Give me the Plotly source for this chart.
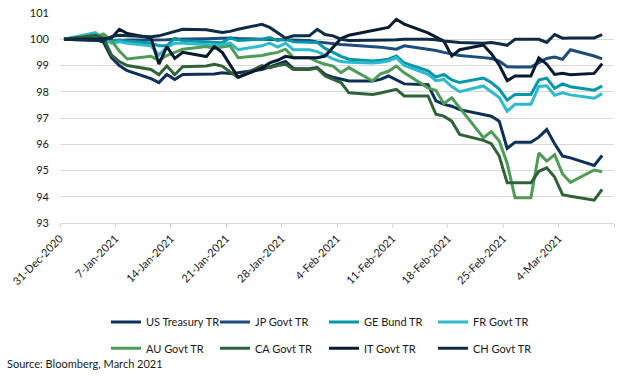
import pandas as pd
import plotly.graph_objects as go

dates = [
    "2020-12-31",
    "2021-01-04", "2021-01-05", "2021-01-06", "2021-01-07", "2021-01-08",
    "2021-01-11", "2021-01-12", "2021-01-13", "2021-01-14", "2021-01-15",
    "2021-01-18", "2021-01-19", "2021-01-20", "2021-01-21", "2021-01-22",
    "2021-01-25", "2021-01-26", "2021-01-27", "2021-01-28", "2021-01-29",
    "2021-01-31",
    "2021-02-01", "2021-02-02", "2021-02-03", "2021-02-04", "2021-02-05",
    "2021-02-08", "2021-02-09", "2021-02-10", "2021-02-11", "2021-02-12",
    "2021-02-15", "2021-02-16", "2021-02-17", "2021-02-18", "2021-02-19",
    "2021-02-22", "2021-02-23", "2021-02-24", "2021-02-25", "2021-02-26",
    "2021-02-28",
    "2021-03-01", "2021-03-02", "2021-03-03", "2021-03-04", "2021-03-05",
    "2021-03-08", "2021-03-09",
]

us_treasury = [
    100,
    100.0, 99.88, 99.3, 99.0, 98.8,
    98.5, 98.35, 98.66, 98.47, 98.66,
    98.67, 98.68, 98.72, 98.7, 98.72,
    98.85, 98.95, 99.05, 99.15, 98.88,
    98.88,
    98.92, 98.66, 98.55, 98.47, 98.41,
    98.41, 98.47, 98.6, 98.45, 98.3,
    98.27, 97.65, 97.52, 97.45, 97.32,
    97.14, 97.07, 96.88, 95.84, 96.08,
    96.08,
    96.27, 96.56, 96.02, 95.55, 95.48,
    95.19, 95.57,
]
jp_govt = [
    100,
    99.95, 99.92, 99.93, 99.95, 99.97,
    99.97, 99.97, 99.98, 100.0, 100.0,
    100.02, 100.03, 100.05, 100.05, 100.03,
    100.0, 100.0, 99.98, 99.97, 99.95,
    99.95,
    99.9, 99.86, 99.83, 99.8, 99.78,
    99.73, 99.7, 99.66, 99.62, 99.75,
    99.62, 99.57, 99.5, 99.43, 99.38,
    99.3, 99.27, 99.17, 98.95, 98.94,
    98.94,
    99.11, 99.27, 99.32, 99.24, 99.6,
    99.36, 99.25,
]
ge_bund = [
    100,
    100.15, 100.0, 99.95, 99.97, 99.93,
    99.85, 99.75, 99.75, 100.03, 99.95,
    99.9, 99.88, 99.87, 100.05, 99.95,
    100.0, 100.06, 99.95, 100.02, 99.9,
    99.9,
    99.88, 99.65, 99.5, 99.35, 99.24,
    99.17, 99.2, 99.24, 99.36, 99.1,
    98.8, 98.56, 98.66, 98.45, 98.35,
    98.52, 98.35, 98.1, 97.68, 97.9,
    97.9,
    98.45, 98.52, 98.13, 98.3, 98.19,
    98.06, 98.22,
]
fr_govt = [
    100,
    100.25, 100.0, 99.85, 99.9, 99.85,
    99.75, 99.4, 99.7, 99.85, 99.85,
    99.8, 99.75, 99.8, 99.85, 99.6,
    99.75, 99.85, 99.7, 99.85, 99.6,
    99.6,
    99.53, 99.4, 99.25, 99.15, 99.12,
    99.1, 99.12, 99.17, 99.3, 99.0,
    98.66, 98.42, 98.47, 98.2, 98.0,
    98.22, 98.0, 97.78, 97.26, 97.52,
    97.52,
    98.2, 98.23, 97.87, 97.96, 97.88,
    97.75, 97.93,
]
au_govt = [
    100,
    100.1, 100.2, 99.95, 99.55, 99.25,
    99.35, 99.2, 99.38, 99.5, 99.62,
    99.72, 99.65, 99.7, 99.75, 99.3,
    99.38, 99.45, 99.5, 99.62, 99.3,
    99.3,
    99.15, 99.05, 98.98, 98.73, 98.92,
    98.41, 98.68, 98.78, 98.98, 98.72,
    98.15, 98.05, 97.55, 97.77, 97.4,
    96.25, 96.48, 96.12, 95.28, 93.96,
    93.96,
    95.67, 95.36, 95.6, 94.87, 94.55,
    95.02, 94.95,
]
ca_govt = [
    100,
    100.15, 100.05, 99.4, 99.15, 99.0,
    98.85, 98.65, 98.98, 98.65, 98.95,
    98.98, 99.05, 98.98, 98.75, 98.55,
    99.0, 98.92, 99.0, 99.05, 98.85,
    98.85,
    98.9, 98.6, 98.47, 98.35, 97.96,
    97.9, 97.95, 98.03, 98.09, 97.84,
    97.84, 97.14, 97.07, 96.88, 96.37,
    96.15, 96.02, 95.55, 94.53, 94.53,
    94.53,
    94.97, 95.1, 94.75, 94.08, 94.02,
    93.87, 94.28,
]
it_govt = [
    100,
    100.0, 100.02, 100.05, 100.38, 100.22,
    100.05, 99.05, 99.72, 99.27, 99.5,
    99.34, 99.72, 99.5, 99.0, 98.55,
    98.9, 99.1, 99.2, 99.35, 99.3,
    99.3,
    99.3, 99.36, 99.7, 100.03, 100.15,
    100.32, 100.4, 100.45, 100.76, 100.58,
    100.24, 100.08, 99.93, 99.36, 99.6,
    99.78, 99.45, 99.02, 98.42, 98.6,
    98.6,
    99.29, 99.05, 98.66, 98.7, 98.65,
    98.7, 99.07,
]
ch_govt = [
    100,
    99.97, 99.95, 100.1, 100.15, 100.13,
    100.1, 100.13, 100.22, 100.3, 100.38,
    100.36, 100.3, 100.26, 100.3, 100.38,
    100.57, 100.45, 100.25, 100.04, 100.13,
    100.13,
    100.38, 100.18, 100.13, 100.0, 99.95,
    99.95, 99.97, 99.97, 99.98, 100.0,
    100.0, 99.98, 99.93, 99.9, 99.88,
    99.85, 99.88, 99.83, 99.77, 100.0,
    100.0,
    100.0, 99.88, 100.18, 100.04, 100.05,
    100.05, 100.18,
]

series_names = ["US Treasury TR", "JP Govt TR", "GE Bund TR", "FR Govt TR",
                "AU Govt TR", "CA Govt TR", "IT Govt TR", "CH Govt TR"]
series_values = [us_treasury, jp_govt, ge_bund, fr_govt,
                 au_govt, ca_govt, it_govt, ch_govt]
colors = ["#0c3058", "#1d4b7a", "#0097a9", "#2fb9cc",
          "#4e9c58", "#2f6337", "#071a30", "#0f2c47"]

tick_dates = ["2020-12-31", "2021-01-07", "2021-01-14", "2021-01-21", "2021-01-28",
              "2021-02-04", "2021-02-11", "2021-02-18", "2021-02-25", "2021-03-04",
              "2021-03-11"]
tick_labels = ["31-Dec-2020", "7-Jan-2021", "14-Jan-2021", "21-Jan-2021", "28-Jan-2021",
               "4-Feb-2021", "11-Feb-2021", "18-Feb-2021", "25-Feb-2021", "4-Mar-2021", ""]

# points sit in the middle of each day's slot on the date axis
x_vals = pd.to_datetime(dates) + pd.Timedelta(hours=12)

FONT = "Lato"
fig = go.Figure()
for i, (name, vals, col) in enumerate(zip(series_names, series_values, colors)):
    fig.add_trace(go.Scatter(
        x=x_vals, y=vals, name=name, mode="lines",
        line=dict(color=col, width=3),
        legend="legend" if i < 4 else "legend2",
    ))

legend_common = dict(
    orientation="h", xanchor="left", x=0.083, yanchor="middle",
    entrywidth=64, entrywidthmode="pixels", itemwidth=30,
    font=dict(family=FONT, size=11, color="#1a1a1a"),
    bgcolor="rgba(0,0,0,0)", traceorder="normal",
)

fig.update_layout(
    width=622, height=376,
    margin=dict(l=60, r=8, t=13, b=153, autoexpand=False),
    paper_bgcolor="white", plot_bgcolor="white",
    font=dict(family=FONT, size=11, color="#1a1a1a"),
    legend=dict(y=-0.471, **legend_common),
    legend2=dict(y=-0.597, **legend_common),
    xaxis=dict(
        type="date", range=["2020-12-31", "2021-03-11"],
        tickmode="array", tickvals=tick_dates, ticktext=tick_labels,
        tickangle=-45, ticks="outside", ticklen=4, tickcolor="#d9d9d9",
        showgrid=False, showline=True, linecolor="#d9d9d9", linewidth=1,
        zeroline=False, automargin=False, ticklabeloverflow="allow",
        tickfont=dict(family=FONT, size=11, color="#1a1a1a"),
    ),
    yaxis=dict(
        range=[93, 101], dtick=1, tick0=93,
        showgrid=True, gridcolor="#d9d9d9", gridwidth=1,
        zeroline=False, showline=False, ticks="", automargin=False,
        ticklabelstandoff=10, ticklabeloverflow="allow",
        tickfont=dict(family=FONT, size=11, color="#1a1a1a"),
    ),
    annotations=[dict(
        text="Source: Bloomberg, March 2021", xref="paper", yref="paper",
        x=-0.099, y=-0.667, xanchor="left", yanchor="middle", showarrow=False,
        font=dict(family=FONT, size=11, color="#1a1a1a"),
    )],
)

# remove the browser's default body margin so the figure fills the window exactly
fig.write_html("out.html", config={"displayModeBar": False},
               post_script="document.body.style.margin='0';")
